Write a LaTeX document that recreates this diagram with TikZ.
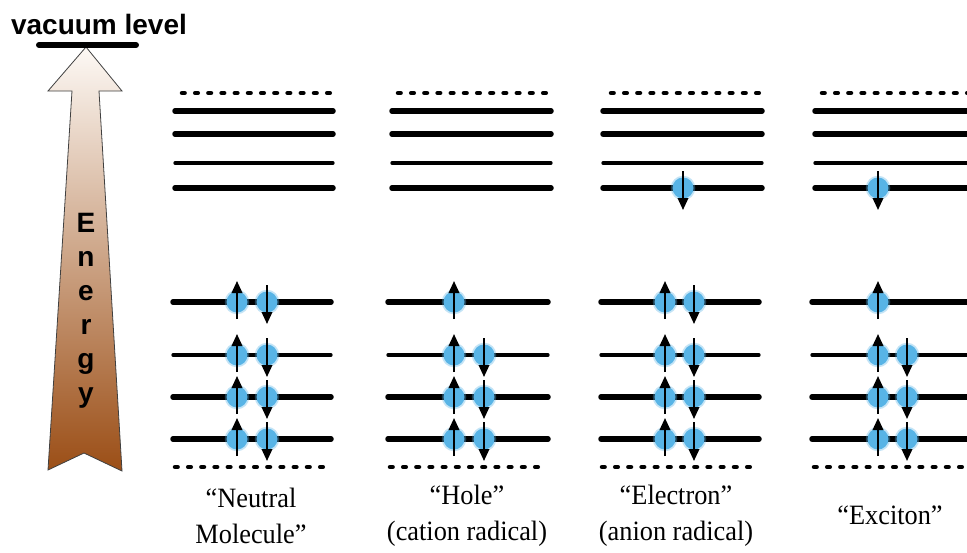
\documentclass[tikz,border=0pt]{standalone}
\usepackage{fontspec}
\setmainfont{Liberation Serif}
\newfontfamily\arialfont{Liberation Sans}
\usetikzlibrary{arrows.meta}
\definecolor{eblue}{RGB}{88,180,230}
\definecolor{arrowtop}{RGB}{253,249,245}
\definecolor{arrowbot}{RGB}{155,78,22}
\newcommand{\narrow}[1]{\scalebox{0.94}[1]{#1}}
\tikzset{
  x=1pt, y=-1pt,
  thicklevel/.style={line width=5.5pt, line cap=round},
  thinlevel/.style={line width=3.3pt, line cap=round},
  dotlevel/.style={line width=4.5pt, line cap=round, dash pattern=on 2.6pt off 10.6pt},
  spinarrow/.style={line width=2pt, -{Triangle[width=10.5pt,length=12pt]}},
  lbl/.style={font=\fontsize{28}{36}\selectfont, align=center, inner sep=0pt},
  sanslbl/.style={font=\arialfont\bfseries\fontsize{28}{32}\selectfont, inner sep=0pt},
  eup/.pic={
    \fill[eblue, opacity=0.35] (0,0) circle (12.3pt);
    \fill[eblue] (0,0) circle (10.5pt);
    \draw[spinarrow] (0,17) -- (0,-21);
  },
  edown/.pic={
    \fill[eblue, opacity=0.35] (0,0) circle (12.3pt);
    \fill[eblue] (0,0) circle (10.5pt);
    \draw[spinarrow] (0,-17) -- (0,22);
  }
}
\begin{document}
\begin{tikzpicture}
\useasboundingbox (0,0) rectangle (967,552);
\fill[white] (0,0) rectangle (967,552);

% Energy arrow
\shade[top color=arrowtop, bottom color=arrowbot, draw=black!75, line width=0.8pt]
  (86,47) -- (122,91) -- (99,91) -- (122,471) -- (84,453) -- (48,470) -- (72,91) -- (48,91) -- cycle;
\draw[line width=6pt, line cap=round] (39,45) coordinate (vl1) -- (136,45) coordinate (vl2);
\node[sanslbl] (vac) at (99,24) {vacuum level};
\foreach \ch [count=\i from 0] in {E,n,e,r,g,y}{
  \node[sanslbl, anchor=base] (en\i) at (86,{232+34*\i}) {\ch};
}

% col1
\draw[dotlevel] (182,93) -- (333,93);
\draw[thicklevel] (175,111) -- (333,111);
\draw[thicklevel] (175,134) -- (333,134);
\draw[thinlevel] (175,163) -- (333,163);
\draw[thicklevel] (175,188) -- (333,188);
\draw[thicklevel] (173,302) -- (331,302);
\draw[thinlevel] (173,355) -- (331,355);
\draw[thicklevel] (173,397) -- (331,397);
\draw[thicklevel] (173,439) -- (331,439);
\draw[dotlevel] (175,467) -- (326,467);
\foreach \yy in {302,355,397,439}{
  \pic at (237,\yy) {eup};
  \pic at (267,\yy) {edown};
}

% col2
\draw[dotlevel] (398,93) -- (552,93);
\draw[thicklevel] (392,111) -- (551,111);
\draw[thicklevel] (392,134) -- (551,134);
\draw[thinlevel] (392,163) -- (551,163);
\draw[thicklevel] (392,188) -- (551,188);
\draw[thicklevel] (388,302) -- (548,302);
\draw[thinlevel] (388,355) -- (548,355);
\draw[thicklevel] (388,397) -- (548,397);
\draw[thicklevel] (388,439) -- (548,439);
\draw[dotlevel] (390,467) -- (542,467);
\pic at (454,302) {eup};
\foreach \yy in {355,397,439}{
  \pic at (454,\yy) {eup};
  \pic at (484,\yy) {edown};
}

% col3
\draw[dotlevel] (611,93) -- (763,93);
\draw[thicklevel] (603,111) -- (762,111);
\draw[thicklevel] (603,134) -- (762,134);
\draw[thinlevel] (603,163) -- (762,163);
\draw[thicklevel] (603,188) -- (762,188);
\pic at (683,188) {edown};
\draw[thicklevel] (601,302) -- (759,302);
\draw[thinlevel] (601,355) -- (759,355);
\draw[thicklevel] (601,397) -- (759,397);
\draw[thicklevel] (601,439) -- (759,439);
\draw[dotlevel] (602,467) -- (754,467);
\foreach \yy in {302,355,397,439}{
  \pic at (665,\yy) {eup};
  \pic at (694,\yy) {edown};
}

% col4
\draw[dotlevel] (822,93) -- (975,93);
\draw[thicklevel] (815,111) -- (980,111);
\draw[thicklevel] (815,134) -- (980,134);
\draw[thinlevel] (815,163) -- (980,163);
\draw[thicklevel] (815,188) -- (980,188);
\pic at (878,188) {edown};
\draw[thicklevel] (812,302) -- (980,302);
\draw[thinlevel] (812,355) -- (980,355);
\draw[thicklevel] (812,397) -- (980,397);
\draw[thicklevel] (812,439) -- (980,439);
\draw[dotlevel] (814,467) -- (975,467);
\pic at (878,302) {eup};
\foreach \yy in {355,397,439}{
  \pic at (878,\yy) {eup};
  \pic at (907,\yy) {edown};
}

% labels
\node[lbl] (l1) at (251,516) {\narrow{“Neutral}\\\narrow{Molecule”}};
\node[lbl] (l2) at (467,516) {\narrow{“Hole”}\\\narrow{(cation radical)}};
\node[lbl] (l3) at (676,516) {\narrow{“Electron”}\\\narrow{(anion radical)}};
\node[lbl] (l4) at (890,515) {\narrow{“Exciton”}};
\end{tikzpicture}
\end{document}
